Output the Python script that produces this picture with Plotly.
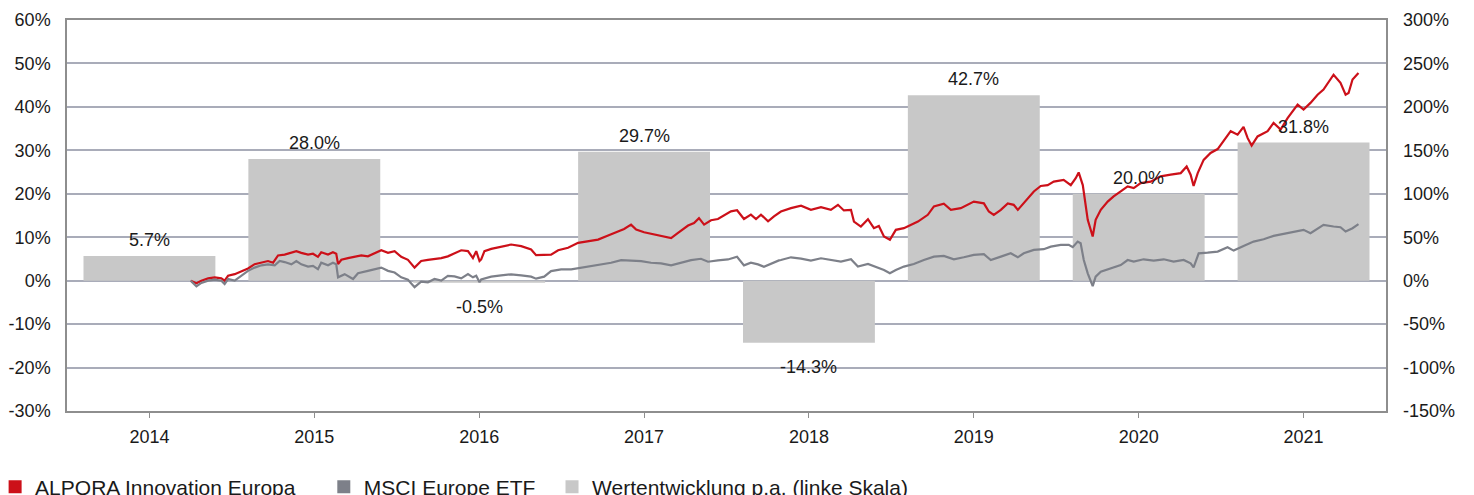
import plotly.graph_objects as go

# ---- data ----
years = ["2014", "2015", "2016", "2017", "2018", "2019", "2020", "2021"]
perf_pa = [5.7, 28.0, -0.5, 29.7, -14.3, 42.7, 20.0, 31.8]  # left scale, %

# time (years after 2014 category centre) and cumulative performance (right scale, %)
alpora_t = [0.250, 0.285, 0.315, 0.356, 0.396, 0.436, 0.456, 0.477, 0.517, 0.558,
            0.598, 0.638, 0.679, 0.719, 0.750, 0.780, 0.820, 0.861, 0.891, 0.921,
            0.962, 0.992, 1.022, 1.042, 1.083, 1.113, 1.133, 1.144, 1.164, 1.204,
            1.244, 1.285, 1.325, 1.365, 1.406, 1.447, 1.487, 1.527, 1.568, 1.608,
            1.648, 1.689, 1.729, 1.770, 1.810, 1.850, 1.891, 1.932, 1.962, 1.982, 2.002,
            2.012, 2.032, 2.073, 2.133, 2.194, 2.255, 2.315, 2.345, 2.394, 2.436,
            2.479, 2.539, 2.600, 2.661, 2.721, 2.782, 2.842, 2.879, 2.921, 2.952,
            3.000, 3.042, 3.103, 3.164, 3.206, 3.267, 3.303, 3.333, 3.364, 3.406,
            3.448, 3.485, 3.527, 3.564, 3.606, 3.648, 3.679, 3.709, 3.752, 3.788, 3.818,
            3.830, 3.891, 3.952, 4.012, 4.073, 4.133, 4.176, 4.212, 4.255, 4.273,
            4.315, 4.358, 4.394, 4.424, 4.455, 4.491, 4.527, 4.576, 4.618, 4.661,
            4.721, 4.758, 4.818, 4.861, 4.921, 5.000, 5.061, 5.091, 5.121, 5.164,
            5.206, 5.242, 5.267, 5.303, 5.364, 5.406, 5.448, 5.485, 5.545, 5.588,
            5.618, 5.636, 5.648, 5.661,
            5.691, 5.721, 5.739, 5.770, 5.812, 5.848, 5.891, 5.933, 5.970, 6.012,
            6.073, 6.133, 6.194, 6.255, 6.291, 6.315, 6.333, 6.358, 6.394, 6.436,
            6.479, 6.515, 6.558, 6.600, 6.636, 6.661, 6.685, 6.721, 6.782, 6.818,
            6.861, 6.903, 6.964, 7.000, 7.042, 7.085, 7.121, 7.182, 7.224, 7.255,
            7.273, 7.297, 7.333]
alpora_v = [0, -3, 0, 2.6, 3.8, 2.6, 0, 5.6, 7.5, 11,
            14, 19, 21, 22.6, 20.7, 29, 30, 32, 34, 32,
            30, 31, 27.4, 32.7, 30, 32.7, 31, 19, 24, 26,
            27.4, 29, 28, 31, 35, 32, 34, 27.4, 24, 15,
            22.6, 24, 25, 26, 28, 31, 35, 34, 26, 34, 22.6,
            24.4, 34, 36.6, 39, 41.6, 39.7, 35.9, 29.4, 29.4, 30,
            35, 37.8, 43.5, 45.4, 47.3, 52, 57, 59.5, 64.5, 58.8,
            55.7, 54, 52, 49, 55, 63.4, 66.4, 72, 64.5, 69.5,
            71, 74.8, 79.8, 81, 71, 76, 71, 76, 68.3, 74, 77.9,
            79.6, 83.5, 86.2, 81.5, 84.6, 81.5, 87.3, 80.8, 81.5, 68,
            62.3, 70.8, 60.4, 63, 50.8, 47, 58.5, 60.4, 64.2, 68,
            75.8, 85.4, 88.5, 81.5, 83.5, 91, 89, 79.6, 75.8, 81.5,
            89, 87.3, 81.5, 89, 102.7, 109, 110, 114, 116, 110,
            118, 124.6, 118, 110,
            70, 50.8, 70, 81.5, 91, 97, 102.7, 108.5, 106.5, 112.3,
            114, 120, 122, 123.8, 131.5, 122, 109, 123.8, 139, 147,
            151.5, 160.4, 172, 168, 177, 164, 155.4, 166, 172, 181.5,
            174, 187, 202.7, 197, 204.6, 214, 220, 237, 227.7, 214,
            216, 231.5, 239]

msci_t = [0.250, 0.285, 0.315, 0.356, 0.396, 0.436, 0.456, 0.477, 0.517, 0.558,
          0.598, 0.638, 0.679, 0.719, 0.760, 0.790, 0.820, 0.861, 0.891, 0.921,
          0.962, 0.992, 1.022, 1.042, 1.083, 1.113, 1.133, 1.144, 1.184, 1.235,
          1.265, 1.325, 1.365, 1.406, 1.447, 1.487, 1.527, 1.568, 1.608, 1.648,
          1.689, 1.729, 1.770, 1.810, 1.850, 1.891, 1.932, 1.962, 1.982, 2.002,
          2.012, 2.073, 2.133, 2.194, 2.255, 2.315, 2.345, 2.394, 2.436, 2.497,
          2.558, 2.618, 2.679, 2.739, 2.800, 2.861, 2.921, 2.982, 3.042, 3.103,
          3.164, 3.224, 3.285, 3.345, 3.388, 3.448, 3.509, 3.564, 3.606, 3.648,
          3.691, 3.727, 3.770, 3.818,
          3.830, 3.891, 3.952, 4.012, 4.073, 4.133, 4.194, 4.255, 4.297, 4.358,
          4.418, 4.455, 4.491, 4.527, 4.576, 4.636, 4.697, 4.758, 4.818, 4.879,
          4.939, 5.000, 5.061, 5.103, 5.164, 5.224, 5.267, 5.303, 5.364, 5.424,
          5.467, 5.527, 5.576, 5.600, 5.630, 5.648,
          5.667, 5.691, 5.721, 5.739, 5.770, 5.830, 5.891, 5.933, 5.970, 6.030,
          6.091, 6.152, 6.212, 6.273, 6.315, 6.333, 6.364, 6.418, 6.479, 6.539,
          6.576, 6.636, 6.697, 6.758, 6.818, 6.879, 6.939, 7.000, 7.042, 7.085,
          7.121, 7.182, 7.224, 7.255, 7.297, 7.333]
msci_v = [0, -6.4, -2.6, 0, 1.1, 0, -3.8, 1.9, 0, 5.6,
          11.3, 15, 17.7, 18.8, 17.7, 22.6, 21.4, 18.8, 22.6, 18.8,
          16.2, 17, 13.2, 20.7, 17.7, 20.7, 18.8, 3.8, 7.5, 1.9,
          8.6, 11.3, 13.2, 15, 11.3, 9.4, 3.8, 1.1, -7.5, -1.1,
          -1.9, 1.9, 0, 5.6, 4.9, 2.6, 7.5, 3.8, 5.6, -1.9,
          1.5, 4.6, 6.1, 7.3, 6.1, 4.6, 2.3, 4.6, 11, 13,
          13, 14.9, 16.8, 18.7, 20.6, 23.7, 23.3, 22.5, 20.6, 19.8,
          17.6, 20.6, 23.7, 25.2, 21.8, 23.3, 24.4, 27.5, 17.6, 20.6,
          18.7, 16, 19.8, 23.3,
          23.8, 26.9, 25.4, 23, 25.8, 23.8, 21.9, 24.6, 16.2, 19.2,
          15.4, 12.3, 8.5, 12.3, 16.2, 19.2, 23.8, 27.7, 28.5, 24.6,
          26.9, 29.6, 30.4, 23.8, 27.7, 31.5, 26.9, 31.5, 35.4, 36.2,
          39.2, 41.2, 41.2, 38.5, 45, 43,
          23.8, 8.5, -6.2, 4.6, 10.4, 14.2, 18, 23.8, 21.9, 24.6,
          23, 24.6, 21.9, 23.8, 20, 15.4, 31.5, 32.3, 33.5, 38.5,
          34.6, 40, 45, 47.7, 51.5, 53.8, 56.5, 58.5, 54.6, 60.4,
          64.2, 62.3, 61.5, 56.5, 60.4, 65]

left_ticks = list(range(-30, 61, 10))
right_ticks = list(range(-150, 301, 50))
legend_names = ["ALPORA Innovation Europa", "MSCI Europe ETF",
                "Wertentwicklung p.a. (linke Skala)"]

RED = "#cc1019"
GRAY = "#7d8089"
BAR = "#c8c8c8"
GRID = "#a9acb9"
FRAME = "#8e8e8e"
TXT = "#1a1a1a"
FONT = "Liberation Sans, Arial, sans-serif"

base_year = int(years[0])
NBSP = "\u00a0"
pads = [4, 2, 0]

fig = go.Figure()
fig.add_trace(go.Bar(
    x=years, y=perf_pa, marker=dict(color=BAR, line=dict(width=0)),
    showlegend=False, hoverinfo="skip"))
fig.add_trace(go.Scatter(
    x=[base_year + t for t in alpora_t], y=alpora_v, xaxis="x2", yaxis="y2",
    mode="lines", line=dict(color=RED, width=2.2), showlegend=False))
fig.add_trace(go.Scatter(
    x=[base_year + t for t in msci_t], y=msci_v, xaxis="x2", yaxis="y2",
    mode="lines", line=dict(color=GRAY, width=2.2), showlegend=False))

# legend entries (square markers)
for name, col, p in zip(legend_names, [RED, GRAY, BAR], pads):
    fig.add_trace(go.Scatter(x=[None], y=[None], xaxis="x2", yaxis="y2", mode="markers",
                             marker=dict(symbol="square", size=13, color=col),
                             name=name + NBSP * p))

# bar value labels
annotations = []
for cat, v in zip(years, perf_pa):
    annotations.append(dict(
        x=int(cat), y=v, xref="x2", yref="y", text=f"{v:.1f}%", showarrow=False,
        xanchor="center", yanchor="middle", yshift=16 if v >= 0 else -24,
        font=dict(size=18, color=TXT, family=FONT)))

# the page body adds an 8px margin: figure is 8px smaller to keep the same framing
fig.update_layout(
    width=1466, height=487,
    margin=dict(l=59, r=88, t=12, b=84, autoexpand=False),
    paper_bgcolor="white", plot_bgcolor="white",
    font=dict(family=FONT, size=18, color=TXT),
    bargap=0.2,
    barmode="overlay",
    annotations=annotations,
    xaxis=dict(type="category", categoryorder="array", categoryarray=years,
               range=[-0.5, 7.5], showgrid=False, showline=True, linecolor=FRAME,
               linewidth=1.5, mirror=True, ticks="outside", ticklen=5, tickcolor=FRAME,
               tickfont=dict(size=18, color=TXT), ticklabelstandoff=4, zeroline=False,
               automargin=False),
    xaxis2=dict(overlaying="x", range=[base_year - 0.5, base_year + 7.5], visible=False,
                automargin=False),
    yaxis=dict(range=[-30, 60], tickvals=left_ticks, ticktext=[f"{v}%" for v in left_ticks],
               showgrid=True, gridcolor=GRID, gridwidth=1.5, zeroline=False,
               showline=True, linecolor=FRAME, linewidth=1.5, mirror=True,
               ticks="", tickfont=dict(size=18, color=TXT), ticklabelstandoff=11,
               automargin=False),
    yaxis2=dict(overlaying="y", side="right", anchor="x2", range=[-150, 300],
                tickvals=right_ticks, ticktext=[f"{v}%" for v in right_ticks],
                showgrid=False, zeroline=False, showline=False, ticks="",
                tickfont=dict(size=18, color=TXT), ticklabelstandoff=16,
                automargin=False),
    legend=dict(orientation="h", xref="paper", yref="paper",
                x=-0.0545, xanchor="left", y=-0.142, yanchor="top",
                font=dict(size=21, color=TXT), itemwidth=30,
                bgcolor="rgba(0,0,0,0)"),
)

fig.write_html("out.html")
